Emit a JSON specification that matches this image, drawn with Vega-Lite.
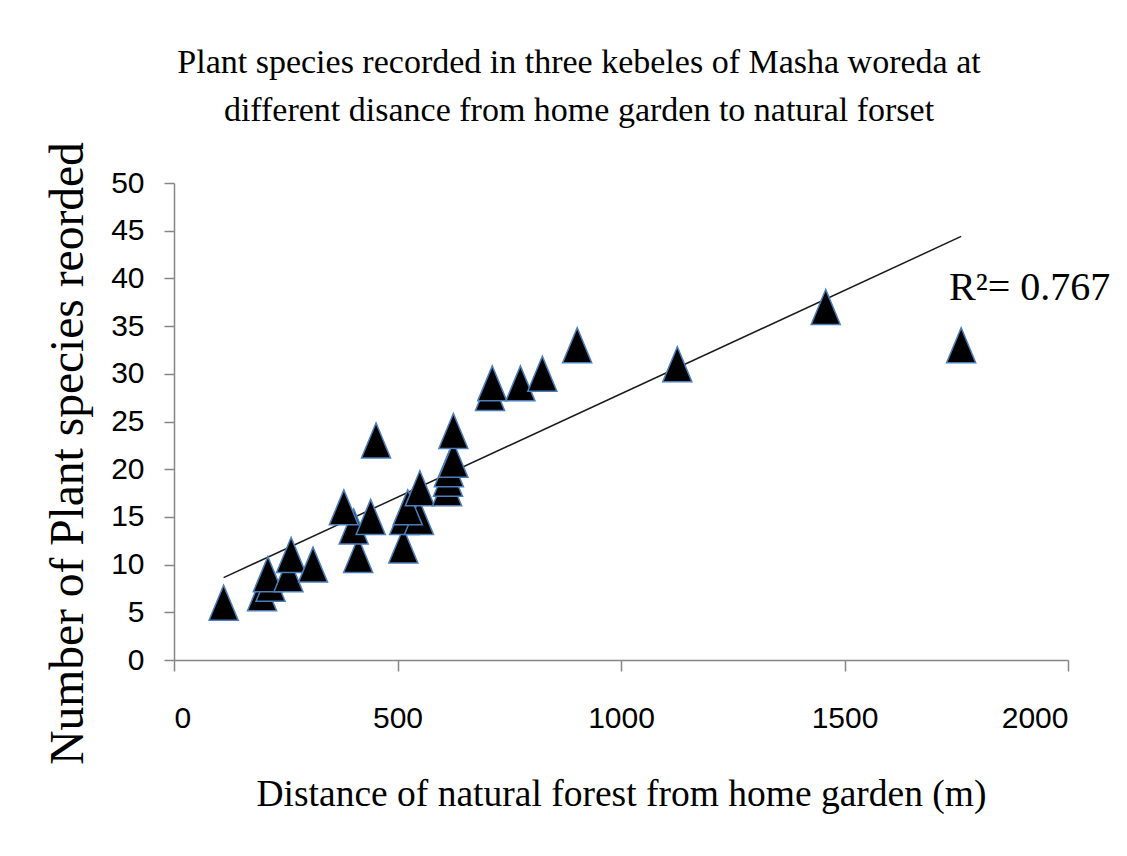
{
  "$schema": "https://vega.github.io/schema/vega-lite/v6.json",
  "width": 894,
  "height": 477,
  "autosize": "none",
  "padding": {"left": 174, "top": 183, "right": 59, "bottom": 196},
  "background": "white",
  "config": {"view": {"stroke": null}},
  "title": {
    "text": ["Plant species recorded in three kebeles of Masha woreda at", "different disance from home garden to natural forset"],
    "font": "Liberation Serif",
    "fontSize": 34,
    "fontWeight": "normal",
    "color": "black",
    "anchor": "middle",
    "frame": "group",
    "dx": -42,
    "offset": 14,
    "lineHeight": 48
  },
  "datasets": {
    "points": [
      {"distance": 111, "species": 6},
      {"distance": 197, "species": 7},
      {"distance": 216, "species": 8},
      {"distance": 210, "species": 9},
      {"distance": 256, "species": 9},
      {"distance": 262, "species": 11},
      {"distance": 311, "species": 10},
      {"distance": 412, "species": 11},
      {"distance": 402, "species": 14},
      {"distance": 380, "species": 16},
      {"distance": 440, "species": 15},
      {"distance": 452, "species": 23},
      {"distance": 513, "species": 12},
      {"distance": 515, "species": 15},
      {"distance": 548, "species": 15},
      {"distance": 523, "species": 16},
      {"distance": 550, "species": 18},
      {"distance": 611, "species": 18},
      {"distance": 613, "species": 19},
      {"distance": 615, "species": 20},
      {"distance": 625, "species": 21},
      {"distance": 625, "species": 24},
      {"distance": 707, "species": 28},
      {"distance": 712, "species": 29},
      {"distance": 775, "species": 29},
      {"distance": 824, "species": 30},
      {"distance": 902, "species": 33},
      {"distance": 1126, "species": 31},
      {"distance": 1458, "species": 37},
      {"distance": 1761, "species": 33}
    ],
    "trend": [
      {"distance": 111, "species": 8.63},
      {"distance": 1761, "species": 44.4}
    ],
    "label": [
      {"distance": 1734, "species": 37.76, "text": "R²= 0.767"}
    ]
  },
  "layer": [
    {
      "data": {"name": "trend"},
      "mark": {"type": "line", "color": "#1a1a1a", "strokeWidth": 1.5},
      "encoding": {
        "x": {"field": "distance", "type": "quantitative"},
        "y": {"field": "species", "type": "quantitative"}
      }
    },
    {
      "data": {"name": "points"},
      "mark": {"type": "point", "shape": "M0,-1L-0.83,1L0.83,1Z", "size": 1225, "filled": true, "fill": "black", "stroke": "#4a7ebb", "strokeWidth": 1.5, "opacity": 1, "fillOpacity": 1},
      "encoding": {
        "x": {
          "field": "distance",
          "type": "quantitative",
          "scale": {"domain": [0, 2000], "nice": false, "zero": false},
          "axis": {
            "values": [0, 500, 1000, 1500, 2000],
            "format": "d",
            "grid": false,
            "domainColor": "#868686",
            "domainWidth": 1.5,
            "tickColor": "#868686",
            "tickWidth": 1.5,
            "tickSize": 11,
            "labelFont": "Liberation Sans",
            "labelFontSize": 30,
            "labelColor": "black",
            "labelPadding": 32,
            "title": "Distance of natural forest  from home garden (m)",
            "titleFont": "Liberation Serif",
            "titleFontSize": 37.5,
            "titleFontWeight": "normal",
            "titleColor": "black",
            "titlePadding": 42
          }
        },
        "y": {
          "field": "species",
          "type": "quantitative",
          "scale": {"domain": [0, 50], "nice": false},
          "axis": {
            "values": [0, 5, 10, 15, 20, 25, 30, 35, 40, 45, 50],
            "format": "d",
            "grid": false,
            "domainColor": "#868686",
            "domainWidth": 1.5,
            "tickColor": "#868686",
            "tickWidth": 1.5,
            "tickSize": 10,
            "labelFont": "Liberation Sans",
            "labelFontSize": 30,
            "labelColor": "black",
            "labelPadding": 20,
            "title": "Number of Plant species reorded",
            "titleFont": "Liberation Serif",
            "titleFontSize": 47.5,
            "titleFontWeight": "normal",
            "titleColor": "black",
            "titleBaseline": "alphabetic",
            "titleY": 270,
            "titleX": -92
          }
        }
      }
    },
    {
      "data": {"name": "label"},
      "mark": {"type": "text", "font": "Liberation Serif", "fontSize": 40, "align": "left", "baseline": "alphabetic", "color": "black"},
      "encoding": {
        "x": {"field": "distance", "type": "quantitative"},
        "y": {"field": "species", "type": "quantitative"},
        "text": {"field": "text"}
      }
    }
  ]
}
